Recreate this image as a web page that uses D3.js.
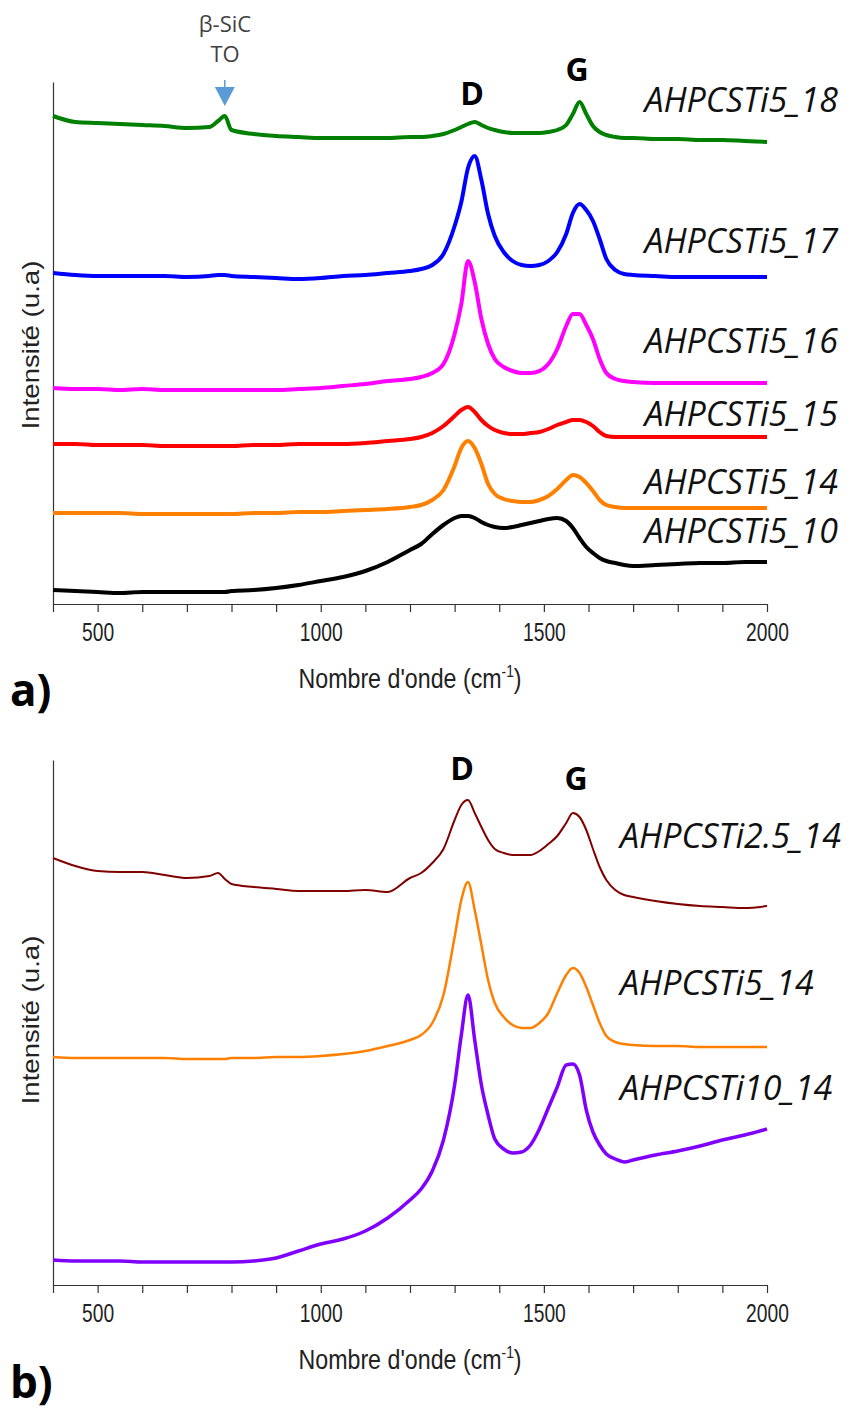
<!DOCTYPE html>
<html>
<head>
<meta charset="utf-8">
<script src="https://cdn.jsdelivr.net/npm/d3@7"></script>
<style>
  html, body { margin: 0; padding: 0; background: #fff; }
  svg { display: block; }
</style>
</head>
<body>
<svg id="chart" width="852" height="1418"></svg>
<script>
// ---- Data ----
const wavenumbers = [400,450,500,550,600,650,700,750,770,785,800,850,900,950,1000,1050,1100,1150,1200,1225,1250,1275,1300,1315,1330,1345,1360,1375,1390,1410,1430,1450,1470,1490,1510,1530,1550,1565,1580,1595,1610,1625,1640,1660,1680,1700,1750,1800,1850,1900,1950,2000];

// Panel a
const ti5_18 = [488,482,481,480,479,478,476,477,483,488,474,470,468,467,466,466,466,466,467,467,468,470,474,477,480,482,479,476,474,472,471,471,471,471,472,474,479,490,502,490,478,472,469,467,466,466,465,465,464,464,463,462];
const ti5_17 = [331,329,328,328,328,328,327,328,329,329,328,327,326,325,326,328,329,331,333,335,339,350,378,402,436,448,424,390,368,352,343,339,338,339,343,352,370,391,400,394,383,365,345,334,330,329,328,327,327,327,327,327];
const ti5_16 = [216,215,215,214,215,214,214,214,214,214,214,214,214,215,216,218,220,223,225,227,231,240,270,300,343,322,285,260,245,237,233,231,231,233,240,255,278,290,290,279,265,245,231,225,223,222,221,221,221,221,221,221];
const ti5_15 = [160,160,159,159,159,158,158,158,158,158,158,159,159,160,160,160,161,163,165,167,171,178,188,194,197,192,184,178,174,171,170,170,171,172,175,179,182,184,184,182,178,172,168,167,167,167,167,167,167,167,167,167];
const ti5_14a = [91,91,91,91,90,90,90,90,90,90,90,91,91,92,92,93,94,95,97,99,104,114,138,156,163,156,140,120,110,105,103,102,102,104,108,115,124,129,127,121,113,104,99,97,96,96,96,96,96,96,96,96];
const ti5_10 = [14,13,12,11,12,12,12,12,12,12,13,14,16,19,23,27,33,42,54,60,70,79,86,88,88,86,82,79,77,76,77,79,81,83,85,86,83,76,66,57,51,46,43,41,39,38,39,40,41,41,42,42];

// Panel b
const ti25_14 = [427,419,414,413,413,410,407,409,412,406,401,398,396,394,394,394,395,393,407,412,422,436,465,480,485,472,458,445,436,432,430,430,430,434,441,449,462,472,468,455,436,418,405,395,390,388,384,381,379,378,377,379];
const ti5_14b = [228,227,227,227,227,227,226,226,226,226,227,227,228,228,229,231,234,239,245,250,262,290,348,385,403,375,340,305,282,268,260,257,257,262,272,292,310,317,312,298,280,262,249,243,241,240,239,239,238,238,238,238];
const ti10_14 = [25,24,24,24,23,23,23,23,23,23,23,24,27,34,41,46,54,67,85,96,114,145,200,250,290,245,200,170,146,136,132,133,140,156,177,198,220,221,210,175,153,140,131,126,123,125,130,134,139,145,150,156];

const namesA = ["AHPCSTi5_18","AHPCSTi5_17","AHPCSTi5_16","AHPCSTi5_15","AHPCSTi5_14","AHPCSTi5_10"];
const namesB = ["AHPCSTi2.5_14","AHPCSTi5_14","AHPCSTi10_14"];
const xTicks = [400,500,600,700,800,900,1000,1100,1200,1300,1400,1500,1600,1700,1800,1900,2000];
const xTickLabels = [500,1000,1500,2000];

// ---- Drawing ----
const svg = d3.select("#chart");
const x = d3.scaleLinear().domain([400, 2000]).range([53, 767]);
const yA = d3.scaleLinear().domain([0, 522]).range([604, 82]);
const yB = d3.scaleLinear().domain([0, 525]).range([1285, 760]);

const tickFont = "'Liberation Sans', Arial, sans-serif";
const calFont = "'Open Sans', 'Noto Sans', sans-serif";

function drawAxes(y, panelLabel, labelY) {
  const r = y.range();
  const gx = svg.append("g").attr("transform", `translate(0,${r[0]})`)
    .call(d3.axisBottom(x).tickValues(xTicks).tickSize(8).tickSizeOuter(0)
      .tickFormat(d => xTickLabels.includes(d) ? d : ""));
  gx.select(".domain").attr("stroke", "#333").attr("stroke-width", 1.2);
  gx.selectAll(".tick line").attr("stroke", "#333").attr("stroke-width", 1.2);
  gx.selectAll(".tick text").attr("font-family", tickFont).attr("font-size", 26)
    .attr("fill", "#222").attr("dy", "0.71em").attr("y", 0)
    .attr("transform", "translate(0,19) scale(0.74,1)");

  const gy = svg.append("g").attr("transform", `translate(${x.range()[0]},0)`)
    .call(d3.axisLeft(y).tickValues([]).tickSizeOuter(0));
  gy.select(".domain").attr("stroke", "#333").attr("stroke-width", 1.2);

  // axis titles
  const xt = svg.append("text")
    .attr("transform", `translate(410,${r[0] + 84}) scale(0.86,1)`)
    .attr("text-anchor", "middle").attr("font-family", tickFont)
    .attr("font-size", 27).attr("fill", "#222");
  xt.append("tspan").text("Nombre d'onde (cm");
  xt.append("tspan").attr("font-size", 16).attr("dy", -11).text("-1");
  xt.append("tspan").attr("dy", 11).text(")");

  svg.append("text")
    .attr("transform", `translate(39,${labelY}) rotate(-90) scale(1.2,1)`)
    .attr("text-anchor", "middle").attr("font-family", tickFont)
    .attr("font-size", 23).attr("fill", "#222")
    .text("Intensité (u.a)");

  svg.append("text").attr("x", 10).attr("y", panelLabel === "a)" ? 706 : 1398)
    .attr("font-family", calFont).attr("font-weight", "bold")
    .attr("font-size", 44).attr("fill", "#000").text(panelLabel);
}

function drawSeries(y, values, color, width) {
  const line = d3.line().x((d, i) => x(wavenumbers[i])).y(d => y(d)).curve(d3.curveMonotoneX);
  svg.append("path").datum(values).attr("d", line)
    .attr("fill", "none").attr("stroke", color).attr("stroke-width", width)
    .attr("stroke-linejoin", "round");
}

function seriesLabel(txt, xPos, yPos, anchor) {
  svg.append("text").attr("x", xPos).attr("y", yPos).attr("text-anchor", anchor)
    .attr("font-family", calFont).attr("font-style", "italic")
    .attr("font-size", 34).attr("fill", "#111").text(txt);
}

function bandLabel(txt, xPos, yPos) {
  svg.append("text").attr("x", xPos).attr("y", yPos).attr("text-anchor", "middle")
    .attr("font-family", calFont).attr("font-weight", "bold")
    .attr("font-size", 32).attr("fill", "#000").text(txt);
}

// Panel a
drawAxes(yA, "a)", 345);
const seriesA = [ti5_18, ti5_17, ti5_16, ti5_15, ti5_14a, ti5_10];
const colorsA = ["#008000", "#0000ff", "#ff00ff", "#ff0000", "#ff8000", "#000000"];
seriesA.forEach((s, i) => drawSeries(yA, s, colorsA[i], 4));
const labelYA = [112, 253, 353, 426, 494, 543];
namesA.forEach((n, i) => seriesLabel(n, 838, labelYA[i], "end"));
bandLabel("D", 472, 105);
bandLabel("G", 577, 81);

// beta-SiC annotation
svg.append("text").attr("x", 225).attr("y", 32).attr("text-anchor", "middle")
  .attr("font-family", calFont).attr("font-size", 22).attr("fill", "#404040").text("β-SiC");
svg.append("text").attr("x", 225).attr("y", 62).attr("text-anchor", "middle")
  .attr("font-family", calFont).attr("font-size", 22).attr("fill", "#404040").text("TO");
const ax = x(785);
svg.append("line").attr("x1", ax).attr("x2", ax).attr("y1", 80).attr("y2", 90)
  .attr("stroke", "#5b9bd5").attr("stroke-width", 1.5);
svg.append("path").attr("d", `M${ax - 10},87 L${ax + 10},87 L${ax},106 Z`).attr("fill", "#5b9bd5");

// Panel b
drawAxes(yB, "b)", 1020);
drawSeries(yB, ti25_14, "#800000", 2);
drawSeries(yB, ti5_14b, "#ff8000", 2.5);
drawSeries(yB, ti10_14, "#8000ff", 3.5);
const labelYB = [848, 995, 1100];
namesB.forEach((n, i) => seriesLabel(n, 620, labelYB[i], "start"));
bandLabel("D", 462, 780);
bandLabel("G", 576, 790);
</script>
</body>
</html>
